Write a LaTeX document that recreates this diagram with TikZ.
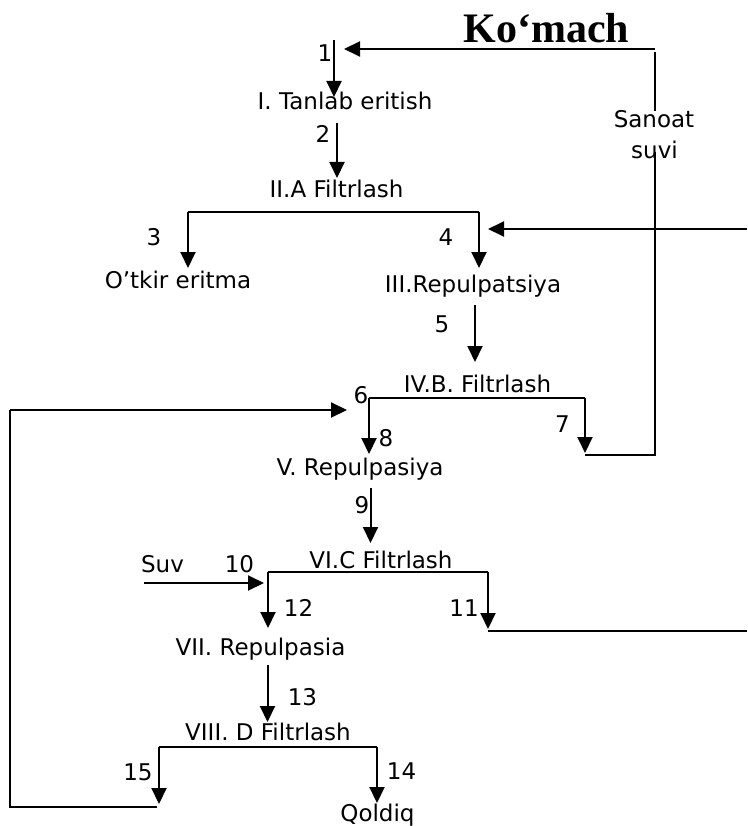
\documentclass[tikz,border=0pt]{standalone}
\usepackage{fontspec}
\setmainfont{DejaVu Sans}
\newfontfamily\titlefont{Liberation Serif}
\usetikzlibrary{arrows.meta}
\tikzset{
  lbl/.style={anchor=base,inner sep=0pt,font=\fontsize{23}{27}\selectfont},
  ttl/.style={anchor=base,inner sep=0pt,font=\titlefont\bfseries\fontsize{42}{46}\selectfont},
  pipe/.style={line width=2pt},
  flow/.style={line width=2pt,-{Triangle[length=16pt,width=15pt]}}
}
\begin{document}
\begin{tikzpicture}[x=1pt,y=-1pt]
  \useasboundingbox (0,0) rectangle (747,826);
  % texts
  \draw
    (546.5,43) node[ttl] (komach){Ko‘mach}
    (325,62) node[lbl] (n1){1}
    (345,110) node[lbl] (tanlab){I. Tanlab eritish}
    (323,143) node[lbl] (n2){2}
    (336.5,198) node[lbl] (filtA){II.A Filtrlash}
    (154,245) node[lbl] (n3){3}
    (446,245) node[lbl] (n4){4}
    (178,288) node[lbl] (otkir){O’tkir eritma}
    (473,292) node[lbl] (repulIII){III.Repulpatsiya}
    (442,332) node[lbl] (n5){5}
    (477.5,392) node[lbl] (filtB){IV.B. Filtrlash}
    (361,403) node[lbl] (n6){6}
    (562.5,432) node[lbl] (n7){7}
    (386,446) node[lbl] (n8){8}
    (360,475) node[lbl] (repulV){V. Repulpasiya}
    (362,513) node[lbl] (n9){9}
    (162.5,572) node[lbl] (suv){Suv}
    (239.5,572) node[lbl] (n10){10}
    (381,568) node[lbl] (filtC){VI.C Filtrlash}
    (298.5,616) node[lbl] (n12){12}
    (464,616) node[lbl] (n11){11}
    (260.5,655) node[lbl] (repulVII){VII. Repulpasia}
    (302.5,705) node[lbl] (n13){13}
    (268,740) node[lbl] (filtD){VIII. D Filtrlash}
    (138,780) node[lbl] (n15){15}
    (401.5,779) node[lbl] (n14){14}
    (377.5,821) node[lbl] (qoldiq){Qoldiq}
    (654,128) node[lbl] (sanoat){Sanoat}
    (654.5,159) node[lbl] (suvi){suvi};
  % corners and arrow ends
  \coordinate (kR) at (655,49);
  \coordinate (kL) at (344,49);
  \coordinate (kD) at (655,52);
  \coordinate (sD) at (655,152);
  \coordinate (a1s) at (334,40);
  \coordinate (a1e) at (334,97);
  \coordinate (a2s) at (337,123);
  \coordinate (a2e) at (337,178);
  \coordinate (bAL) at (188,212);
  \coordinate (bAR) at (479,212);
  \coordinate (a3e) at (188,268);
  \coordinate (a4e) at (479,268);
  \coordinate (rA) at (747,229);
  \coordinate (rAe) at (488,229);
  \coordinate (a5s) at (475,305);
  \coordinate (a5e) at (475,362);
  \coordinate (bBL) at (369,398);
  \coordinate (bBR) at (585,398);
  \coordinate (a8e) at (369,454);
  \coordinate (a7e) at (585,453);
  \coordinate (c7) at (585,455);
  \coordinate (cS) at (655,455);
  \coordinate (lpT) at (10,410);
  \coordinate (lpTe) at (347,410);
  \coordinate (lpB) at (10,807);
  \coordinate (a15b) at (157,807);
  \coordinate (a9s) at (370.5,488);
  \coordinate (a9e) at (370.5,543);
  \coordinate (bCL) at (268,572);
  \coordinate (bCR) at (488,572);
  \coordinate (a12e) at (268,628);
  \coordinate (a11e) at (488,629);
  \coordinate (c11) at (488,631);
  \coordinate (rC) at (747,631);
  \coordinate (suvS) at (144,583);
  \coordinate (suvE) at (264,583);
  \coordinate (a13s) at (267.5,665);
  \coordinate (a13e) at (267.5,722);
  \coordinate (bDL) at (159,747);
  \coordinate (bDR) at (377,747);
  \coordinate (a15e) at (159,804);
  \coordinate (a14e) at (377,803);
  \begin{scope}[flow]
    \draw (kR) to (kL);
    \draw (a1s) to (a1e);
    \draw (a2s) to (a2e);
    \draw (bAL) to (a3e);
    \draw (bAR) to (a4e);
    \draw (rA) to (rAe);
    \draw (a5s) to (a5e);
    \draw (bBL) to (a8e);
    \draw (bBR) to (a7e);
    \draw (lpT) to (lpTe);
    \draw (a9s) to (a9e);
    \draw (suvS) to (suvE);
    \draw (bCL) to (a12e);
    \draw (bCR) to (a11e);
    \draw (a13s) to (a13e);
    \draw (bDL) to (a15e);
    \draw (bDR) to (a14e);
  \end{scope}
  \begin{scope}[pipe]
    \draw (kD) to (sanoat.north -| kD);
    \draw (sD) to (cS) to (c7);
    \draw (bAL) to (bAR);
    \draw (bBL) to (bBR);
    \draw (lpT) to (lpB) to (a15b);
    \draw (bCL) to (bCR);
    \draw (c11) to (rC);
    \draw (bDL) to (bDR);
  \end{scope}
\end{tikzpicture}
\end{document}
